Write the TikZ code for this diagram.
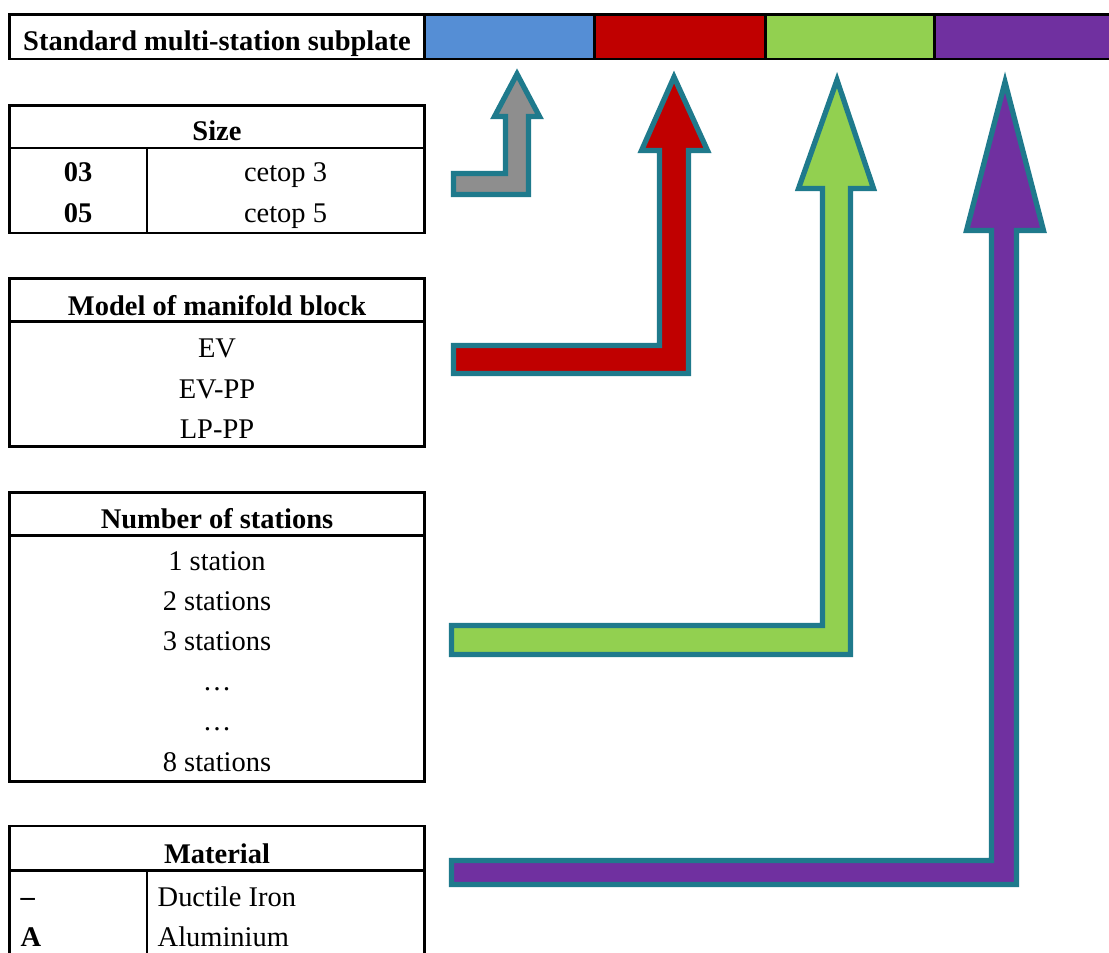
\documentclass[tikz,border=0pt]{standalone}
\usepackage{fontspec}
\setmainfont{Liberation Serif}
\definecolor{barblue}{RGB}{85,142,213}
\definecolor{barred}{RGB}{192,0,0}
\definecolor{bargreen}{RGB}{146,208,80}
\definecolor{barpurple}{RGB}{112,48,160}
\definecolor{argray}{RGB}{142,142,142}
\definecolor{aredge}{RGB}{31,122,140}

\begin{document}
\begin{tikzpicture}[y=-1cm,
		txt/.style={anchor=base,inner sep=0pt,font=\fontsize{8.1}{9.7}\selectfont},
		hd/.style={txt,font=\fontsize{8.1}{9.7}\selectfont\bfseries},
		tab/.style={line width=0.8pt},
		blk/.style={draw=aredge,line width=1.5pt,line join=miter}]
		\useasboundingbox (0,0) rectangle (11.09,9.52);
		\clip (0,0) rectangle (11.09,9.52);
		%top bar
		\fill[barblue] (4.247,0.147) rectangle (5.945,0.59);
		\fill[barred] (5.945,0.147) rectangle (7.655,0.59);
		\fill[bargreen] (7.655,0.147) rectangle (9.345,0.59);
		\fill[barpurple] (9.345,0.147) rectangle (11.2,0.59);
		\draw[tab] (11.2,0.147) -- (0.093,0.147) -- (0.093,0.59) -- (11.2,0.59);
		\foreach \x in {4.247,5.945,7.655,9.345}
			\draw[tab] (\x,0.147) -- (\x,0.59);
		\node[hd] (title) at (2.17,0.50) {Standard multi-station subplate};
		%size
		\draw[tab] (0.093,1.053) rectangle (4.247,2.33);
		\draw[tab] (0.093,1.48) -- (4.247,1.48);
		\draw[tab] (1.47,1.48) -- (1.47,2.33);
		\node[hd] (size) at (2.17,1.40) {Size};
		\node[hd] (s03) at (0.78,1.817) {03};
		\node[txt] (c3) at (2.855,1.817) {cetop 3};
		\node[hd] (s05) at (0.78,2.227) {05};
		\node[txt] (c5) at (2.855,2.227) {cetop 5};
		%model
		\draw[tab] (0.093,2.783) rectangle (4.247,4.467);
		\draw[tab] (0.093,3.217) -- (4.247,3.217);
		\node[hd] (model) at (2.17,3.15) {Model of manifold block};
		\node[txt] (ev) at (2.17,3.573) {EV};
		\node[txt] (evpp) at (2.17,3.983) {EV-PP};
		\node[txt] (lppp) at (2.17,4.383) {LP-PP};
		%stations
		\draw[tab] (0.093,4.927) rectangle (4.247,7.817);
		\draw[tab] (0.093,5.357) -- (4.247,5.357);
		\node[hd] (num) at (2.17,5.283) {Number of stations};
		\node[txt] (st1) at (2.17,5.70) {1 station};
		\node[txt] (st2) at (2.17,6.10) {2 stations};
		\node[txt] (st3) at (2.17,6.50) {3 stations};
		\node[txt] (dots1) at (2.17,6.90) {…};
		\node[txt] (dots2) at (2.17,7.30) {…};
		\node[txt] (st8) at (2.17,7.717) {8 stations};
		%material
		\draw[tab] (0.093,8.26) rectangle (4.247,9.9);
		\draw[tab] (0.093,8.707) -- (4.247,8.707);
		\draw[tab] (1.47,8.707) -- (1.47,9.9);
		\node[hd] (mat) at (2.17,8.633) {Material};
		\node[hd,anchor=base west] (mnone) at (0.20,8.96) {\_};
		\node[txt,anchor=base west] (iron) at (1.57,9.06) {Ductile Iron};
		\node[hd,anchor=base west] (ma) at (0.20,9.467) {A};
		\node[txt,anchor=base west] (alu) at (1.57,9.467) {Aluminium};
		%arrows up to the bar
		\filldraw[blk,fill=argray] (4.535,1.735) -- (5.055,1.735) -- (5.055,1.165) -- (4.945,1.165) -- (5.17,0.74)
			-- (5.395,1.165) -- (5.285,1.165) -- (5.285,1.945) -- (4.535,1.945) -- cycle;
		\filldraw[blk,fill=barred] (4.535,3.455) -- (6.595,3.455) -- (6.595,1.505) -- (6.415,1.505) -- (6.74,0.77)
			-- (7.075,1.505) -- (6.885,1.505) -- (6.885,3.735) -- (4.535,3.735) -- cycle;
		\filldraw[blk,fill=bargreen] (4.515,6.255) -- (8.225,6.255) -- (8.225,1.885) -- (7.985,1.885) -- (8.37,0.80)
			-- (8.735,1.885) -- (8.505,1.885) -- (8.505,6.545) -- (4.515,6.545) -- cycle;
		\filldraw[blk,fill=barpurple] (4.515,8.605) -- (9.915,8.605) -- (9.915,2.305) -- (9.665,2.305) -- (10.05,0.82)
			-- (10.435,2.305) -- (10.165,2.305) -- (10.165,8.845) -- (4.515,8.845) -- cycle;
\end{tikzpicture}
\end{document}
